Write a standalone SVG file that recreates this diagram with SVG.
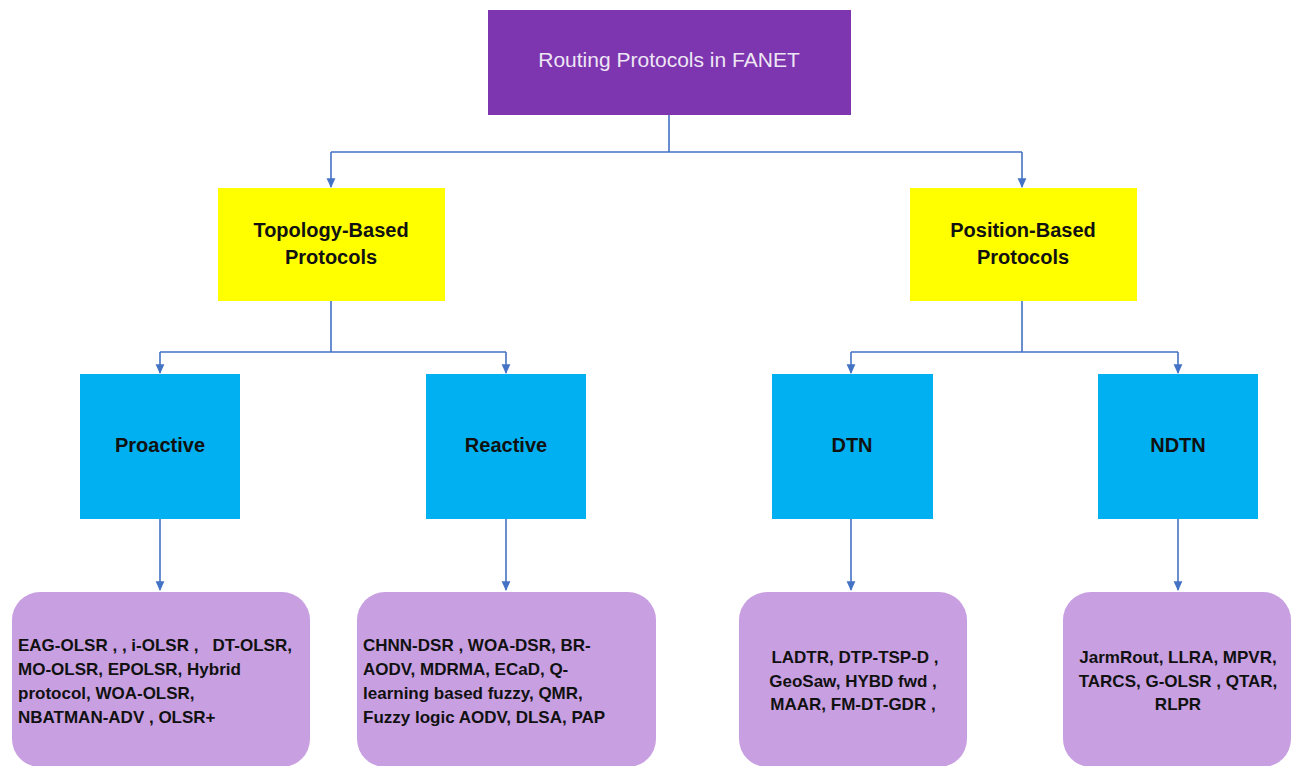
<svg xmlns="http://www.w3.org/2000/svg" width="1293" height="766" viewBox="0 0 1293 766">
<defs>
<marker id="arr" markerWidth="11" markerHeight="11" refX="8" refY="5" orient="auto" markerUnits="userSpaceOnUse" viewBox="0 0 10 10">
<path d="M0,1 L9,5 L0,9 Z" fill="#4472C4"/>
</marker>
<style>
.con{fill:none;stroke:#4472C4;stroke-width:1.6}
.t{font-family:"Liberation Sans",Arial,sans-serif;fill:#111}
.b{font-weight:bold}
.mid{text-anchor:middle}
.leaf{fill:#C8A0E2}
.blue{fill:#00B0F0}
.yel{fill:#FFFF00}
.lt{font-size:17px;font-weight:bold;white-space:pre}
</style>
</defs>
<rect width="1293" height="766" fill="#fff"/>
<g id="connectors">
<path class="con" d="M669,115 V152 M331,152 H1022"/>
<path class="con" d="M331,152 V187" marker-end="url(#arr)"/>
<path class="con" d="M1022,152 V187" marker-end="url(#arr)"/>
<path class="con" d="M331,301 V352 M160,352 H506"/>
<path class="con" d="M160,352 V373" marker-end="url(#arr)"/>
<path class="con" d="M506,352 V373" marker-end="url(#arr)"/>
<path class="con" d="M1022,301 V352 M851,352 H1178"/>
<path class="con" d="M851,352 V373" marker-end="url(#arr)"/>
<path class="con" d="M1178,352 V373" marker-end="url(#arr)"/>
<path class="con" d="M160,519 V590" marker-end="url(#arr)"/>
<path class="con" d="M506,519 V590" marker-end="url(#arr)"/>
<path class="con" d="M851,519 V590" marker-end="url(#arr)"/>
<path class="con" d="M1178,519 V590" marker-end="url(#arr)"/>
</g>
<g id="root">
<rect x="488" y="10" width="363" height="105" fill="#7E35B0"/>
<text class="t mid" x="669" y="67" font-size="21" style="fill:#EDE6F4">Routing Protocols in FANET</text>
</g>
<g id="topology">
<rect class="yel" x="218" y="188" width="227" height="113"/>
<text class="t b mid" x="331" y="237" font-size="20">Topology-Based</text>
<text class="t b mid" x="331" y="264" font-size="20">Protocols</text>
</g>
<g id="position">
<rect class="yel" x="910" y="188" width="227" height="113"/>
<text class="t b mid" x="1023" y="237" font-size="20">Position-Based</text>
<text class="t b mid" x="1023" y="264" font-size="20">Protocols</text>
</g>
<g id="proactive">
<rect class="blue" x="80" y="374" width="160" height="145"/>
<text class="t b mid" x="160" y="452" font-size="20">Proactive</text>
</g>
<g id="reactive">
<rect class="blue" x="426" y="374" width="160" height="145"/>
<text class="t b mid" x="506" y="452" font-size="20">Reactive</text>
</g>
<g id="dtn">
<rect class="blue" x="772" y="374" width="161" height="145"/>
<text class="t b mid" x="852" y="452" font-size="20">DTN</text>
</g>
<g id="ndtn">
<rect class="blue" x="1098" y="374" width="160" height="145"/>
<text class="t b mid" x="1178" y="452" font-size="20">NDTN</text>
</g>
<g id="proactive-list">
<rect class="leaf" x="12" y="592" width="298" height="175" rx="28"/>
<text class="t lt" x="18" y="651">EAG-OLSR , , i-OLSR ,   DT-OLSR,</text>
<text class="t lt" x="18" y="675">MO-OLSR, EPOLSR, Hybrid</text>
<text class="t lt" x="18" y="699">protocol, WOA-OLSR,</text>
<text class="t lt" x="18" y="723">NBATMAN-ADV , OLSR+</text>
</g>
<g id="reactive-list">
<rect class="leaf" x="357" y="592" width="299" height="175" rx="28"/>
<text class="t lt" x="363" y="651">CHNN-DSR , WOA-DSR, BR-</text>
<text class="t lt" x="363" y="675">AODV, MDRMA, ECaD, Q-</text>
<text class="t lt" x="363" y="699">learning based fuzzy, QMR,</text>
<text class="t lt" x="363" y="723">Fuzzy logic AODV, DLSA, PAP</text>
</g>
<g id="dtn-list">
<rect class="leaf" x="739" y="592" width="228" height="175" rx="28"/>
<text class="t lt mid" x="855" y="663">LADTR, DTP-TSP-D ,</text>
<text class="t lt mid" x="853" y="687">GeoSaw, HYBD fwd ,</text>
<text class="t lt mid" x="853" y="710">MAAR, FM-DT-GDR ,</text>
</g>
<g id="ndtn-list">
<rect class="leaf" x="1063" y="592" width="228" height="175" rx="28"/>
<text class="t lt mid" x="1178" y="663">JarmRout, LLRA, MPVR,</text>
<text class="t lt mid" x="1178" y="687">TARCS, G-OLSR , QTAR,</text>
<text class="t lt mid" x="1178" y="710">RLPR</text>
</g>
</svg>
